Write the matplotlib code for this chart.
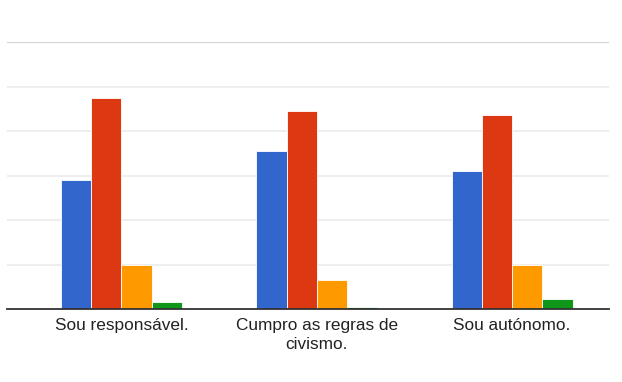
import numpy as np
import matplotlib.pyplot as plt

# ---------- Data ----------
categories = ["Sou responsável.", "Cumpro as regras de\ncivismo.", "Sou autónomo."]
serie_azul = [58, 71, 62]
serie_vermelha = [95, 89, 87]
serie_laranja = [20, 13, 20]
serie_verde = [3, 1, 4.5]

series = [serie_azul, serie_vermelha, serie_laranja, serie_verde]
colors = ['#3366cc', '#dc3912', '#ff9900', '#109618']

# ---------- Figure ----------
fig = plt.figure(figsize=(6.22, 3.82), dpi=100)
ax = fig.add_axes([7/622, 73/382, 602/622, 267/382])

x = np.arange(len(categories))
w = 0.155
for i, (vals, c) in enumerate(zip(series, colors)):
    ax.bar(x + (i - 1.5) * w, vals, width=w, color=c, edgecolor='white',
           linewidth=0.6, zorder=3)

ax.set_xlim(-0.586, 2.496)
ax.set_ylim(0, 120)
ax.set_yticks(np.arange(0, 101, 20))
ax.yaxis.grid(True, color='#ebebeb', linewidth=1.2, zorder=0)
ax.axhline(120, color='#d6d6d6', linewidth=1.6, zorder=1)
ax.tick_params(axis='y', left=False, labelleft=False)
ax.tick_params(axis='x', length=0, pad=6.5)

ax.set_xticks(x)
ax.set_xticklabels(categories, fontsize=12.4, color='#222222',
                   family='Liberation Sans', linespacing=1.35)

for s in ['top', 'right', 'left']:
    ax.spines[s].set_visible(False)
ax.spines['bottom'].set_color('#333333')
ax.spines['bottom'].set_linewidth(1.3)
ax.spines['bottom'].set_zorder(4)

fig.savefig('out.png', dpi=100)
